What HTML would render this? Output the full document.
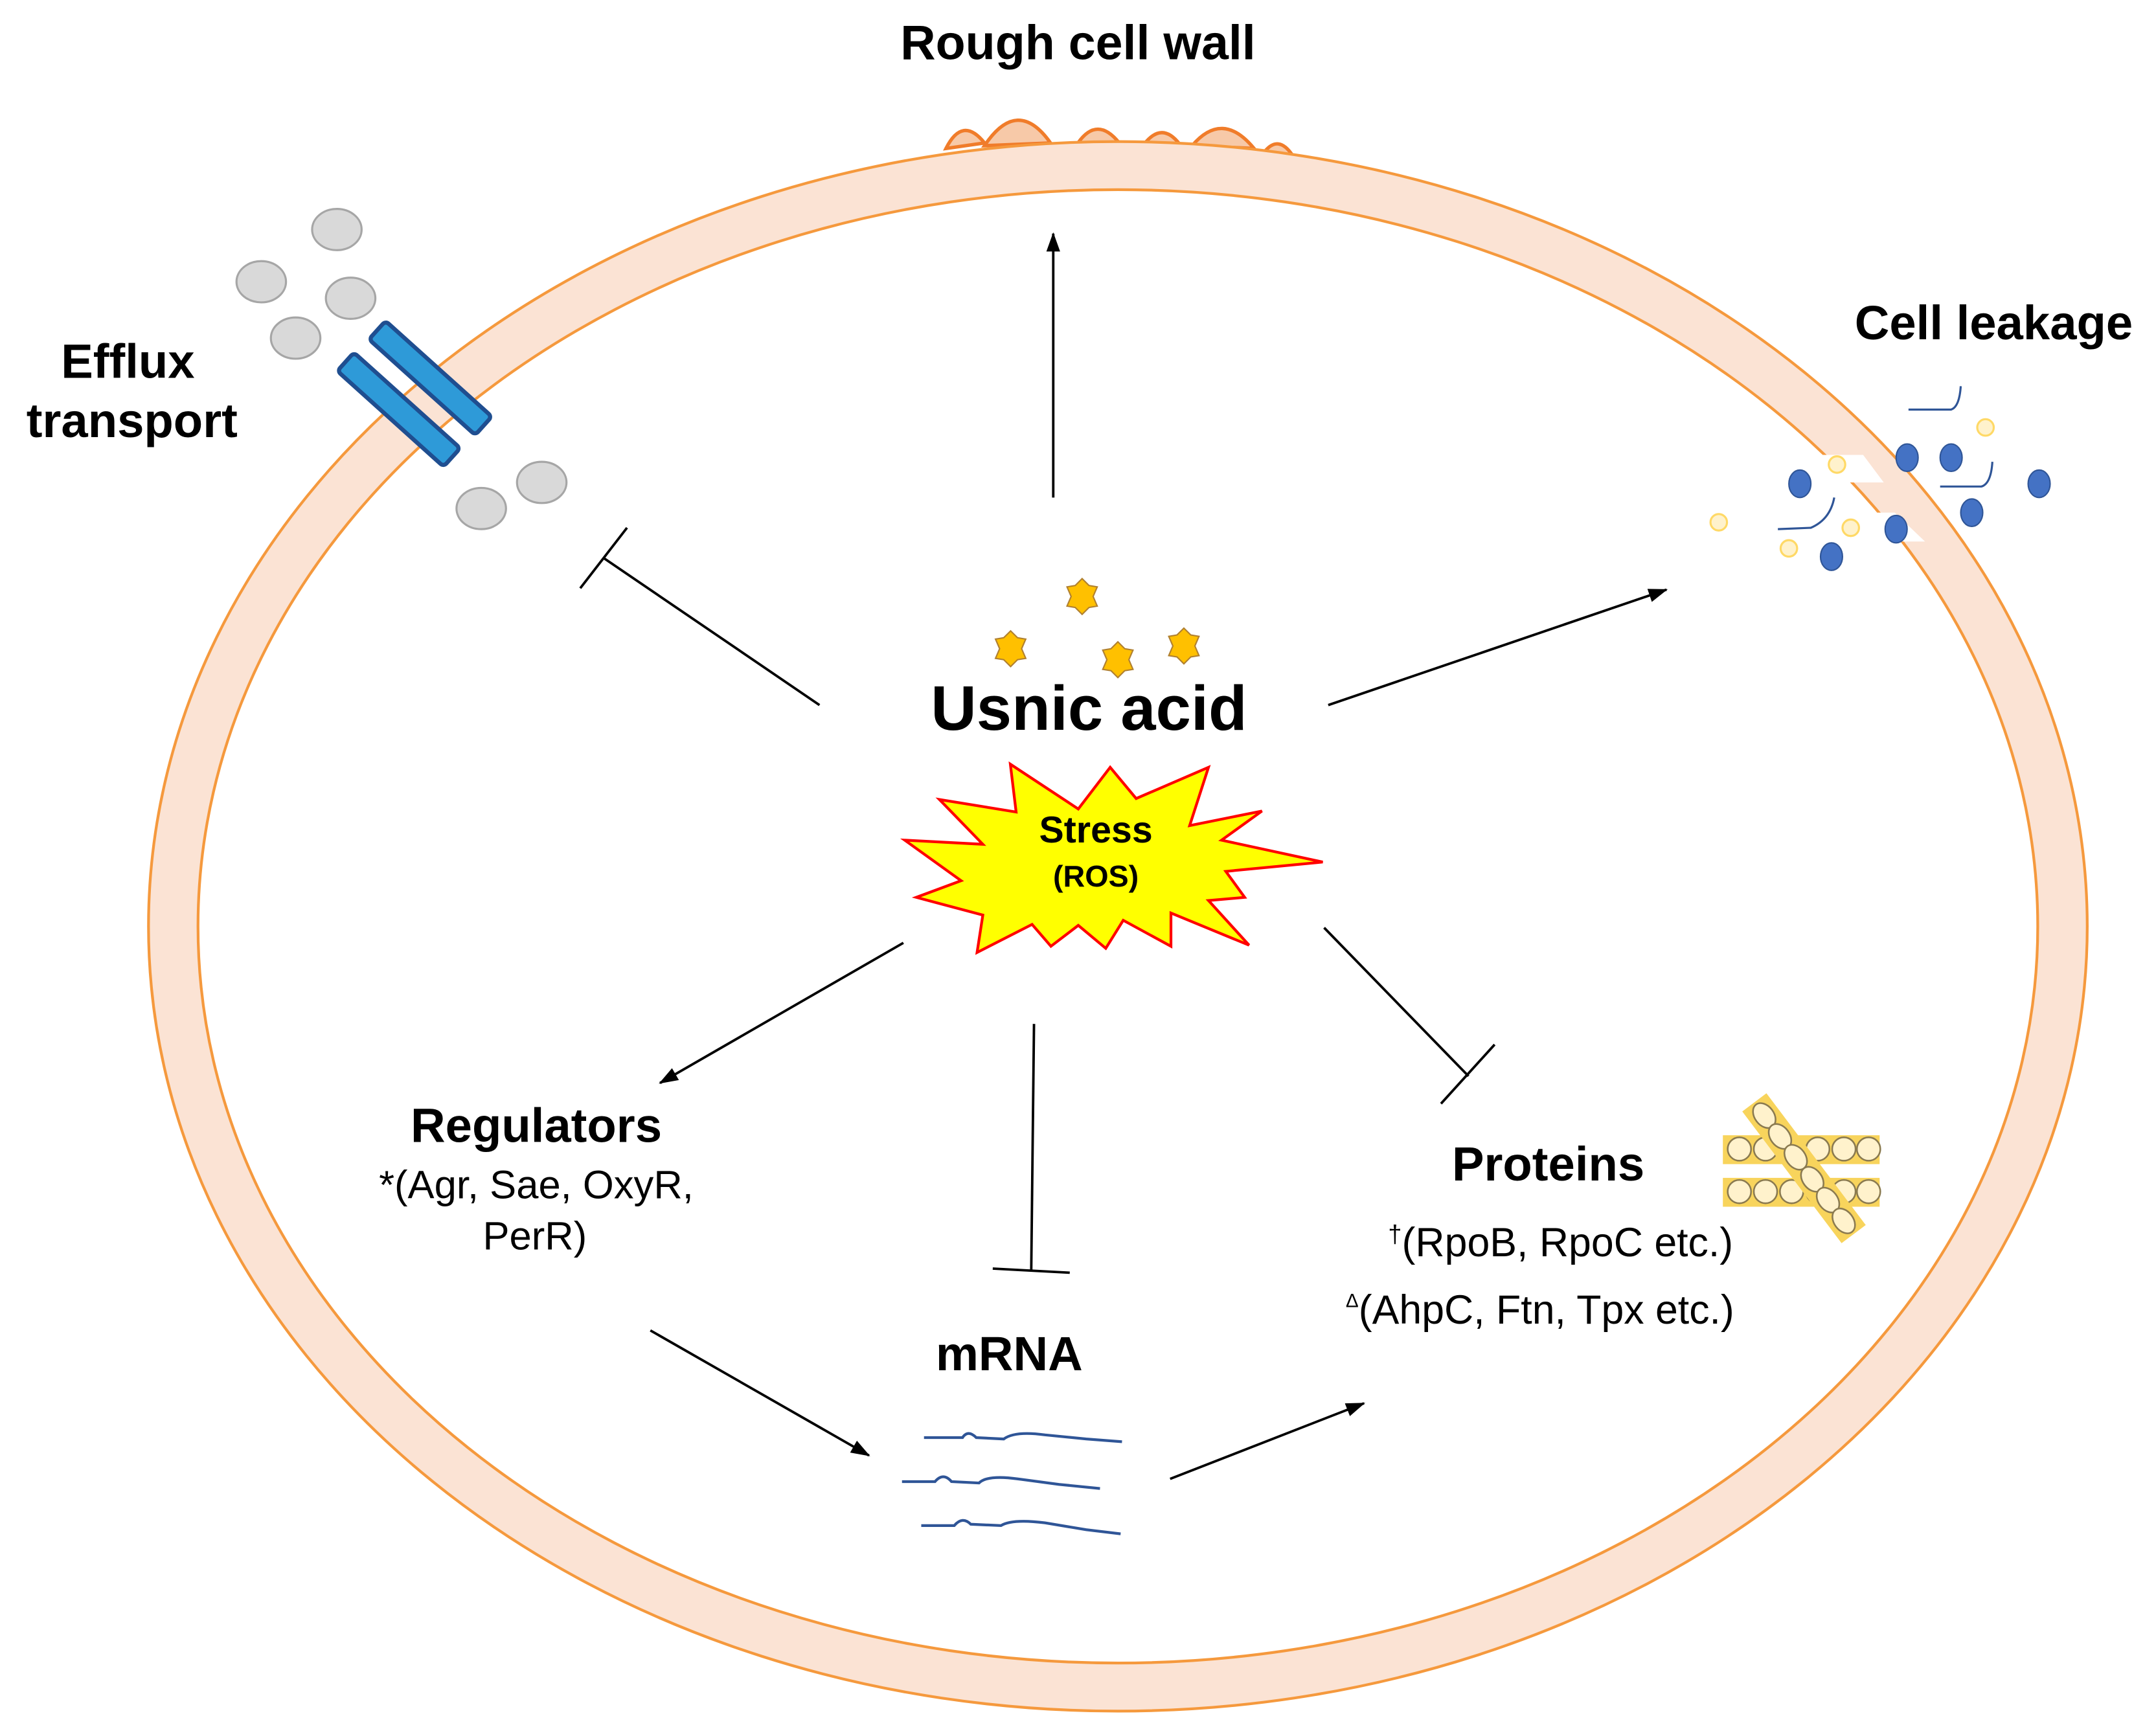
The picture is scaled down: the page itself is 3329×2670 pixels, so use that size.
<!DOCTYPE html>
<html><head><meta charset="utf-8"><style>
html,body{margin:0;padding:0;background:#fff;}
svg{display:block;}
text{font-family:"Liberation Sans",Arial,sans-serif;fill:#000;}
.b{font-weight:bold;}
</style></head><body>
<svg width="3329" height="2670" viewBox="0 0 1568 1258" preserveAspectRatio="none" xmlns="http://www.w3.org/2000/svg">
<defs>
<marker id="ah" markerWidth="14" markerHeight="12" refX="13" refY="6" orient="auto" markerUnits="userSpaceOnUse">
<path d="M0,1 L14,6 L0,11 Z" fill="#000"/>
</marker>
</defs>
<g fill="#f7c9a8" stroke="#f07c2a" stroke-width="2.5">
<path d="M688,108 Q700,84 716,104 Z"/>
<path d="M716,106 Q740,70 764,104 Z"/>
<path d="M784,104 Q798,84 814,104 Z"/>
<path d="M832,105 Q845,88 858,105 Z"/>
<path d="M867,106 Q889,80 912,108 Z"/>
<path d="M920,110 Q930,98 940,113 Z"/>
</g>
<ellipse cx="813" cy="674" rx="705" ry="571" fill="#fbe3d4" stroke="#f5993d" stroke-width="2"/>
<ellipse cx="813" cy="674" rx="669" ry="536" fill="#fff" stroke="#f5993d" stroke-width="2"/>
<polygon points="1300,331 1355,331 1370,351 1312,351" fill="#fff"/>
<polygon points="1320,373 1378,373 1400,394 1340,394" fill="#fff"/>
<g fill="#d9d9d9" stroke="#a6a6a6" stroke-width="1.5">
<ellipse cx="245" cy="167" rx="18" ry="15"/>
<ellipse cx="190" cy="205" rx="18" ry="15"/>
<ellipse cx="255" cy="217" rx="18" ry="15"/>
<ellipse cx="215" cy="246" rx="18" ry="15"/>
<ellipse cx="350" cy="370" rx="18" ry="15"/>
<ellipse cx="394" cy="351" rx="18" ry="15"/>
</g>
<g fill="#2e9ad8" stroke="#1f4e90" stroke-width="3">
<rect x="-52" y="-9" width="104" height="18" rx="3" transform="translate(290,298) rotate(42)"/>
<rect x="-52" y="-9" width="104" height="18" rx="3" transform="translate(313,275) rotate(42)"/>
</g>
<g fill="none" stroke="#2f5597" stroke-width="1.5">
<path d="M1388,298 L1419,298 Q1425,296 1426,281"/>
<path d="M1411,354 L1441,354 Q1448,352 1449,336"/>
<path d="M1293,385 L1317,384 Q1331,378 1334,362"/>
</g>
<g fill="#fff2cc" stroke="#ffd966" stroke-width="1.5">
<circle cx="1444" cy="311" r="6"/>
<circle cx="1336" cy="338" r="6"/>
<circle cx="1250" cy="380" r="6"/>
<circle cx="1346" cy="384" r="6"/>
<circle cx="1301" cy="399" r="6"/>
</g>
<g fill="#4472c4" stroke="#2f5597" stroke-width="1">
<ellipse cx="1387" cy="333" rx="8" ry="10"/>
<ellipse cx="1419" cy="333" rx="8" ry="10"/>
<ellipse cx="1309" cy="352" rx="8" ry="10"/>
<ellipse cx="1483" cy="352" rx="8" ry="10"/>
<ellipse cx="1434" cy="373" rx="8" ry="10"/>
<ellipse cx="1379" cy="385" rx="8" ry="10"/>
<ellipse cx="1332" cy="405" rx="8" ry="10"/>
</g>
<g fill="#ffc000" stroke="#b08030" stroke-width="1">
<path d="M0,-13 L5,-8 L11,-7 L8,0 L11,7 L5,8 L0,13 L-5,8 L-11,7 L-8,0 L-11,-7 L-5,-8 Z" transform="translate(787,434)"/>
<path d="M0,-13 L5,-8 L11,-7 L8,0 L11,7 L5,8 L0,13 L-5,8 L-11,7 L-8,0 L-11,-7 L-5,-8 Z" transform="translate(735,472)"/>
<path d="M0,-13 L5,-8 L11,-7 L8,0 L11,7 L5,8 L0,13 L-5,8 L-11,7 L-8,0 L-11,-7 L-5,-8 Z" transform="translate(813,480)"/>
<path d="M0,-13 L5,-8 L11,-7 L8,0 L11,7 L5,8 L0,13 L-5,8 L-11,7 L-8,0 L-11,-7 L-5,-8 Z" transform="translate(861,470)"/>
</g>
<polygon points="734.8,556 784.2,588.6 807.4,558.3 826.3,581 878.9,558.3 865.2,600.7 917.8,590.1 888.4,611.3 962,627.2 891.5,634 905.2,652.9 878.9,655.2 908.4,687.7 851.6,664.3 851.6,688.5 816.9,669.6 804.2,690 784.2,673.3 764.3,688.5 750.6,672.6 710.6,693 714.8,665.8 666.4,652.9 699,640.8 658,611.3 714.8,614.3 683.2,581.7 739,590.8" fill="#ffff00" stroke="#ff0000" stroke-width="2"/>
<text x="797" y="613" class="b" font-size="27" text-anchor="middle">Stress</text>
<text x="797" y="645" class="b" font-size="22" text-anchor="middle">(ROS)</text>
<g stroke="#8a7a50" stroke-width="1.2">
<rect x="1253" y="826" width="114" height="21" fill="#f8d45c" stroke="none"/>
<rect x="1253" y="857" width="114" height="21" fill="#f8d45c" stroke="none"/>
<g fill="#fff2cc">
<circle cx="1265" cy="836" r="8.5"/><circle cx="1284" cy="836" r="8.5"/><circle cx="1303" cy="836" r="8.5"/><circle cx="1322" cy="836" r="8.5"/><circle cx="1341" cy="836" r="8.5"/><circle cx="1359" cy="836" r="8.5"/>
<circle cx="1265" cy="867" r="8.5"/><circle cx="1284" cy="867" r="8.5"/><circle cx="1303" cy="867" r="8.5"/><circle cx="1322" cy="867" r="8.5"/><circle cx="1341" cy="867" r="8.5"/><circle cx="1359" cy="867" r="8.5"/>
</g>
<rect x="-60" y="-11" width="120" height="22" fill="#f8d45c" stroke="none" transform="translate(1312,850) rotate(53)"/>
<g fill="#fff2cc" transform="translate(1312,850) rotate(53)">
<ellipse cx="-48" cy="0" rx="10" ry="7"/><ellipse cx="-29" cy="0" rx="10" ry="7"/><ellipse cx="-10" cy="0" rx="10" ry="7"/><ellipse cx="10" cy="0" rx="10" ry="7"/><ellipse cx="29" cy="0" rx="10" ry="7"/><ellipse cx="48" cy="0" rx="10" ry="7"/>
</g>
</g>
<g fill="none" stroke="#2f5597" stroke-width="2">
<path d="M672,1046 L700,1046 Q704,1040 710,1046 L730,1047 Q738,1041 760,1044 L790,1047 L816,1049"/>
<path d="M656,1078 L680,1078 Q686,1071 692,1078 L712,1079 Q718,1073 740,1076 L770,1080 L800,1083"/>
<path d="M670,1110 L694,1110 Q700,1103 706,1109 L728,1110 Q736,1105 760,1108 L790,1113 L815,1116"/>
</g>
<g stroke="#000" stroke-width="1.8" fill="none">
<line x1="766" y1="362" x2="766" y2="170" marker-end="url(#ah)"/>
<line x1="966" y1="513" x2="1212" y2="429" marker-end="url(#ah)"/>
<line x1="596" y1="513" x2="439" y2="406"/>
<line x1="422" y1="428" x2="456" y2="384"/>
<line x1="657" y1="686" x2="480" y2="788" marker-end="url(#ah)"/>
<line x1="752" y1="745" x2="750" y2="924"/>
<line x1="722" y1="923" x2="778" y2="926"/>
<line x1="963" y1="675" x2="1068" y2="783"/>
<line x1="1048" y1="803" x2="1087" y2="760"/>
<line x1="473" y1="968" x2="632" y2="1059" marker-end="url(#ah)"/>
<line x1="851" y1="1076" x2="992" y2="1021" marker-end="url(#ah)"/>
</g>
<text x="784" y="43" class="b" font-size="35.5" text-anchor="middle">Rough cell wall</text>
<text x="93" y="275" class="b" font-size="35" text-anchor="middle">Efflux</text>
<text x="96" y="318" class="b" font-size="35" text-anchor="middle">transport</text>
<text x="1450" y="247" class="b" font-size="35" text-anchor="middle">Cell leakage</text>
<text x="792" y="531" class="b" font-size="46" text-anchor="middle">Usnic acid</text>
<text x="390" y="831" class="b" font-size="35" text-anchor="middle">Regulators</text>
<text x="390" y="872" font-size="29" text-anchor="middle">*(Agr, Sae, OxyR,</text>
<text x="389" y="909" font-size="29" text-anchor="middle">PerR)</text>
<text x="734" y="997" class="b" font-size="35" text-anchor="middle">mRNA</text>
<text x="1126" y="859" class="b" font-size="35" text-anchor="middle">Proteins</text>
<text x="1135" y="914" font-size="29.5" text-anchor="middle"><tspan font-size="18" dy="-10">†</tspan><tspan dy="10">(RpoB, RpoC etc.)</tspan></text>
<text x="1120" y="963" font-size="29.5" text-anchor="middle"><tspan font-size="14" dy="-12">Δ</tspan><tspan dy="12">(AhpC, Ftn, Tpx etc.)</tspan></text>
</svg>
</body></html>
